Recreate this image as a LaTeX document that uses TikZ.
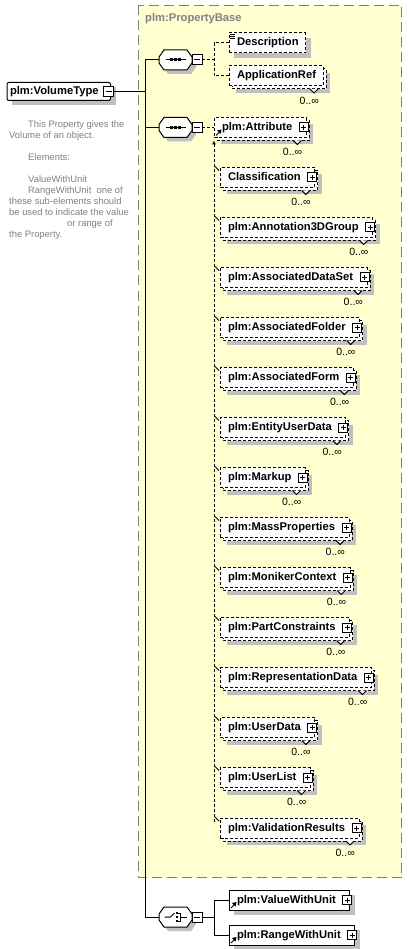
\documentclass[tikz,border=0pt]{standalone}
\usepackage{fontspec}
\setmainfont{Liberation Sans}
\usetikzlibrary{calc,arrows.meta}
\pgfdeclarelayer{ylayer}
\pgfdeclarelayer{shdlayer}
\pgfdeclarelayer{bcklayer}
\pgfsetlayers{ylayer,shdlayer,bcklayer,main}
\definecolor{paleyellow}{RGB}{255,255,208}
\definecolor{shadowgray}{RGB}{192,192,192}
\definecolor{txtgray}{RGB}{128,128,128}
\tikzset{
  elembox/.style={draw=black, fill=white, line width=1pt, rectangle, inner xsep=0pt, inner ysep=0pt, outer sep=0pt, minimum height=20pt, anchor=west, font=\fontsize{11.2}{13}\selectfont\bfseries, text height=8pt, text depth=2pt},
  optline/.style={dash pattern=on 3pt off 2pt},
  connline/.style={line width=1pt, draw=black},
  dconnline/.style={connline, dash pattern=on 3pt off 2pt},
  multlbl/.style={font=\fontsize{10.5}{12}\selectfont, anchor=east, inner sep=0pt},
  doctext/.style={font=\fontsize{9.4}{11}\selectfont, text=txtgray, anchor=base west, inner sep=0pt},
  minusbox/.style={draw=black, fill=white, line width=1pt, inner sep=0pt, outer sep=0pt, minimum size=10pt},
}
% name, left x, right padding, centre y, text, options
\newcommand\mkbox[6]{\node[elembox,#6] (#1) at (#2,#4) {\hspace*{8pt}#5\hspace*{#3pt}};}
\newcommand\mkshadow[1]{\begin{pgfonlayer}{shdlayer}\fill[shadowgray] ($(#1.north west)+(5,5)$) rectangle ($(#1.south east)+(5,5)$);\end{pgfonlayer}}
\newcommand\mkmulti[1]{%
  \begin{pgfonlayer}{shdlayer}\fill[shadowgray] ($(#1.north west)+(7,7)$) rectangle ($(#1.south east)+(7,7)$);\end{pgfonlayer}%
  \begin{pgfonlayer}{bcklayer}\draw[fill=white,line width=1pt,optline] ($(#1.north west)+(3,3)$) rectangle ($(#1.south east)+(3,3)$);\end{pgfonlayer}%
  \draw[fill=white,line width=1pt] ($(#1.south east)+(-13,3)$) -- ++(4,4) -- ++(4,-4);%
  \node[multlbl] at ($(#1.south east)+(-4,14.5)$) {0..∞};}
\newcommand\mkplus[1]{%
  \draw[fill=white,line width=1pt] ($(#1.east)+(-7,-4.5)$) rectangle ++(9,9);%
  \draw[line width=1pt] ($(#1.east)+(-5,0)$) -- ++(5,0) ($(#1.east)+(-2.5,-2.5)$) -- ++(0,5);}
\newcommand\mkref[1]{%
  \draw[line width=1pt] ($(#1.west)+(2,8)$) -- ++(3,-3);%
  \fill ($(#1.west)+(7.5,2)$) -- ++(-4.5,1) -- ++(3.5,3.5) -- cycle;}
\newcommand\mksub[3]{%
  \mkbox{#1}{220}{14}{#2}{#3}{optline}\mkmulti{#1}\mkplus{#1}%
  \draw[line width=1pt] ($(#1.north west)+(-5,-1)$) -- ++(4,4);}
\newcommand\compshape[2]{({#1-16.5},{#2-3}) -- ({#1-11.5},{#2-10}) -- ({#1+11.5},{#2-10}) -- ({#1+16.5},{#2-3}) -- ({#1+16.5},{#2+3}) -- ({#1+11.5},{#2+10}) -- ({#1-11.5},{#2+10}) -- ({#1-16.5},{#2+3}) -- cycle}
\newcommand\mkcomp[3]{%
  \begin{pgfonlayer}{shdlayer}\fill[shadowgray] \compshape{#2+4}{#3+4};\end{pgfonlayer}%
  \draw[fill=white,line width=1pt] \compshape{#2}{#3};%
  \node[inner sep=0pt,outer sep=0pt,minimum width=33pt,minimum height=20pt] (#1) at (#2,#3) {};%
  \node[minusbox] (#1m) at ({#2+21.5},#3) {};%
  \draw[line width=1pt] ({#2+18.5},#3) -- ({#2+24.5},#3);}
\newcommand\seqicon[2]{%
  \draw[line width=1pt] ({#1-10},#2) -- ({#1+10},#2);%
  \foreach \dx in {-4,0,4} {\fill ({#1+\dx-1.5},{#2-1.5}) rectangle ++(3,3);}}
\newcommand\choiceicon[2]{%
  \draw[line width=1pt] ({#1-11},#2) -- ({#1-5},#2) -- ({#1-1},{#2-4});%
  \foreach \dy in {-4,0,4} {\fill ({#1+0.5},{#2+\dy-1}) rectangle ++(2,2);}%
  \draw[line width=1pt] ({#1+2.5},{#2-4}) -- ({#1+5},{#2-4}) -- ({#1+5},{#2+4}) -- ({#1+2.5},{#2+4}) ({#1+5},#2) -- ({#1+11},#2);}
\begin{document}
\begin{tikzpicture}[x=1pt,y=-1pt]
\useasboundingbox (0,0) rectangle (407,949);
\begin{pgfonlayer}{ylayer}
\draw[draw=txtgray, fill=paleyellow, line width=1pt, dash pattern=on 10pt off 5pt] (138.5,5.5) rectangle (401.5,877.5);
\end{pgfonlayer}
\node[font=\fontsize{11.2}{13}\selectfont\bfseries, text=txtgray, anchor=west, inner sep=0pt] (pbase) at (145,19) {plm:PropertyBase};
% root element
\node[elembox, rounded corners=2pt, minimum height=18pt] (vt) at (7,91.5) {\hspace*{3pt}plm:VolumeType\hspace*{12pt}};
\mkshadow{vt}
\node[minusbox] (vtm) at ($(vt.east)+(-2,0.5)$) {};
\draw[line width=1pt] ($(vtm.center)+(-3,0)$) -- ++(6,0);
% documentation
\node[doctext] (d1) at (28,127.5) {This Property gives the};
\node[doctext] (d2) at (9,138.5) {Volume of an object.};
\node[doctext] (d3) at (28,160.5) {Elements:};
\node[doctext] (d4) at (28,182.5) {ValueWithUnit};
\node[doctext] (d5) at (28,193.5) {RangeWithUnit~ one of};
\node[doctext] (d6) at (9,204.5) {these sub-elements should};
\node[doctext] (d7) at (9,215.5) {be used to indicate the value};
\node[doctext] (d8) at (67,226.5) {or range of};
\node[doctext] (d9) at (9,237.5) {the Property.};
% compositors
\mkcomp{seqa}{175.5}{60}\seqicon{175.5}{60}
\mkcomp{seqb}{175.5}{127.5}\seqicon{175.5}{127.5}
\mkcomp{chc}{175.5}{917}\choiceicon{175.5}{917}
\coordinate (trk) at (145,92);
\draw[connline] (vtm.east) -- (vtm.east -| trk);
\draw[connline] (seqa.west) -- (seqa.west -| trk) -- (chc.west -| trk) -- (chc.west);
\draw[connline] (seqb.west) -- (seqb.west -| trk);
% first sequence
\mkbox{desc}{229}{7}{43}{Description}{optline}\mkshadow{desc}
\draw[line width=0.8pt] ($(desc.north west)+(1,1)$) -- ++(5,0) ($(desc.north west)+(1,3)$) -- ++(5,0) ($(desc.north west)+(1,5)$) -- ++(5,0);
\mkbox{appref}{229}{7}{76}{ApplicationRef}{optline}\mkmulti{appref}
\coordinate (bra) at (214,60);
\draw[dconnline] (seqam.east) -- (bra);
\draw[dconnline] (desc.west) -| (bra);
\draw[dconnline] (appref.west) -| (bra);
% second sequence
\mkbox{attr}{214}{14}{127.5}{plm:Attribute}{optline}\mkmulti{attr}\mkplus{attr}\mkref{attr}
\draw[dconnline] (seqbm.east) -- (attr.west);
\mksub{cls}{177.5}{Classification}
\mksub{ann}{227.5}{plm:Annotation3DGroup}
\mksub{ads}{277.5}{plm:AssociatedDataSet}
\mksub{afo}{327.5}{plm:AssociatedFolder}
\mksub{afm}{377.5}{plm:AssociatedForm}
\mksub{eud}{427.5}{plm:EntityUserData}
\mksub{mku}{477.5}{plm:Markup}
\mksub{mpr}{527.5}{plm:MassProperties}
\mksub{mkc}{577.5}{plm:MonikerContext}
\mksub{pco}{627.5}{plm:PartConstraints}
\mksub{rpd}{677.5}{plm:RepresentationData}
\mksub{usd}{727.5}{plm:UserData}
\mksub{usl}{777.5}{plm:UserList}
\mksub{vre}{828}{plm:ValidationResults}
\draw[dconnline,-{Latex[length=4pt,width=4pt]}] ($(vre.north west)+(-6,4)$) -- ($(attr.south west)+(0,3)$);
% choice
\mkbox{vwu}{229}{14}{900}{plm:ValueWithUnit}{}\mkshadow{vwu}\mkplus{vwu}\mkref{vwu}
\mkbox{rwu}{229}{14}{935}{plm:RangeWithUnit}{}\mkshadow{rwu}\mkplus{rwu}\mkref{rwu}
\coordinate (brc) at (214,917);
\draw[connline] (chcm.east) -- (brc);
\draw[connline] (vwu.west) -| (brc);
\draw[connline] (rwu.west) -| (brc);
\end{tikzpicture}
\end{document}
